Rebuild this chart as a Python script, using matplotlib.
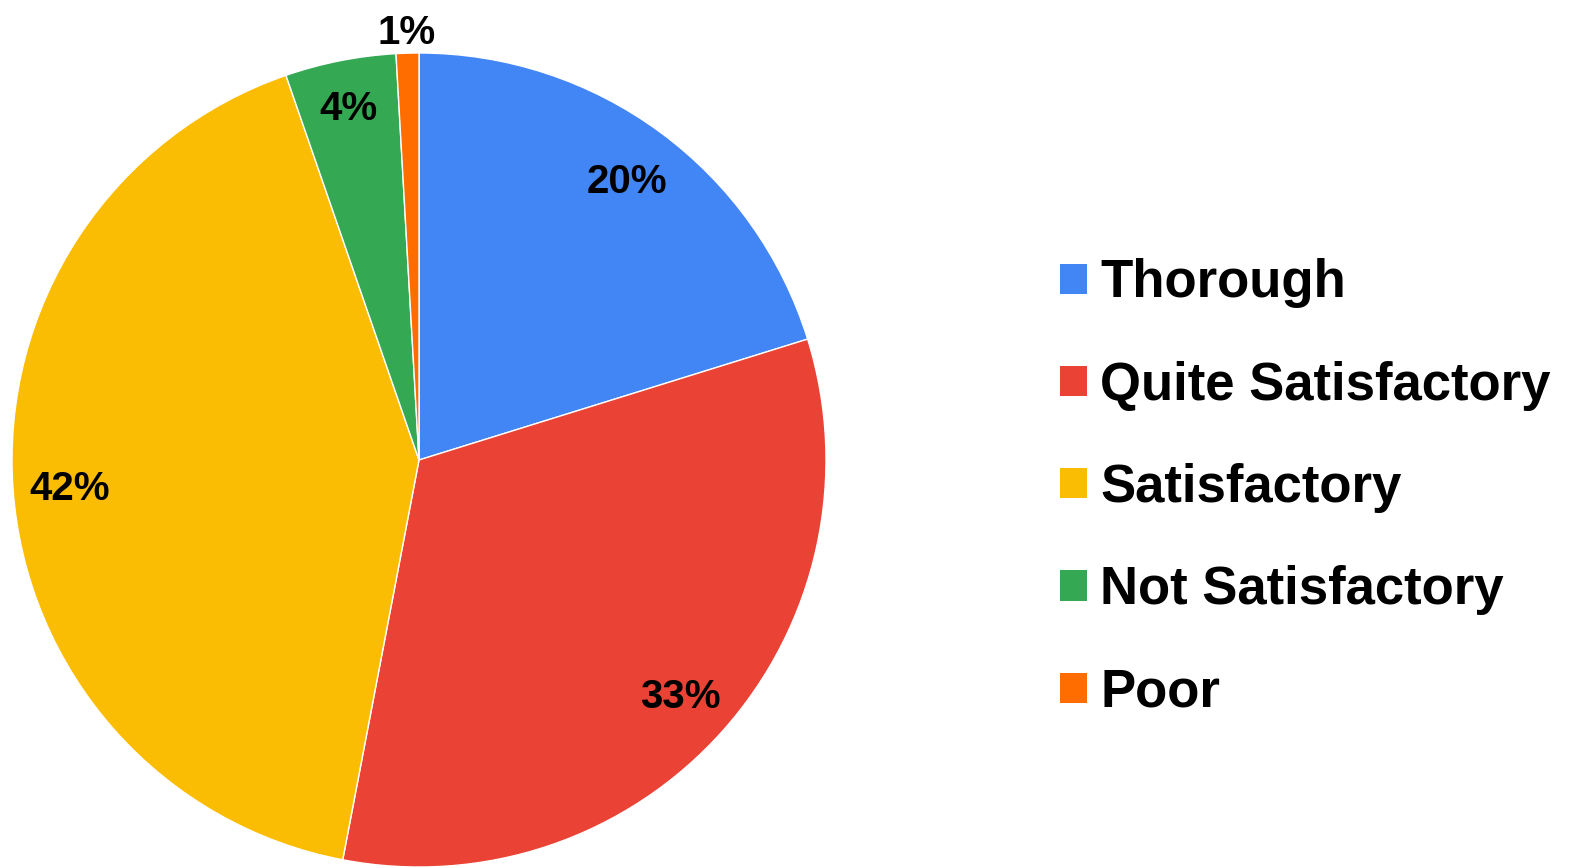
import matplotlib
matplotlib.use("Agg")
import matplotlib.pyplot as plt
from matplotlib.patches import Patch
import numpy as np

categories = ["Thorough", "Quite Satisfactory", "Satisfactory", "Not Satisfactory", "Poor"]
values = [20.2, 32.8, 41.7, 4.4, 0.9]
colors = ["#4285F4", "#EA4335", "#FBBC04", "#34A853", "#FF6D01"]

plt.rcParams['font.family'] = ['Liberation Sans', 'DejaVu Sans']

W, H = 1571, 868
fig = plt.figure(figsize=(W / 100, H / 100), dpi=100)
cx, cy, r = 419, 460, 407
ax = fig.add_axes([(cx - r) / W, (H - cy - r) / H, 2 * r / W, 2 * r / H])

wedges, texts, autotexts = ax.pie(
    values, colors=colors, startangle=90, counterclock=False, radius=1,
    autopct=lambda p: f"{p:.0f}%", pctdistance=0.86,
    wedgeprops=dict(edgecolor="white", linewidth=1),
    textprops=dict(fontsize=29, fontweight="bold", color="black"))
for t in autotexts:
    t.set_verticalalignment("center_baseline")
# small slice label placed outside the pie
w = wedges[-1]
ang = np.deg2rad((w.theta1 + w.theta2) / 2)
autotexts[-1].set_position((1.06 * np.cos(ang), 1.06 * np.sin(ang)))
w = wedges[-2]
ang = np.deg2rad((w.theta1 + w.theta2) / 2)
autotexts[-2].set_position((0.89 * np.cos(ang), 0.89 * np.sin(ang)))

ax.set_xlim(-1, 1)
ax.set_ylim(-1, 1)
ax.set_aspect("equal")
ax.axis("off")

handles = [Patch(facecolor=c, edgecolor="none") for c in colors]
fig.legend(handles, categories, loc="center left",
           bbox_to_anchor=(1060 / W, 1 - 488 / H),
           prop=dict(size=38, weight="bold"), frameon=False,
           handlelength=0.51, handleheight=0.51, handletextpad=0.25,
           labelspacing=0.99, borderaxespad=0, borderpad=0)

fig.savefig("out.png", dpi=100)
